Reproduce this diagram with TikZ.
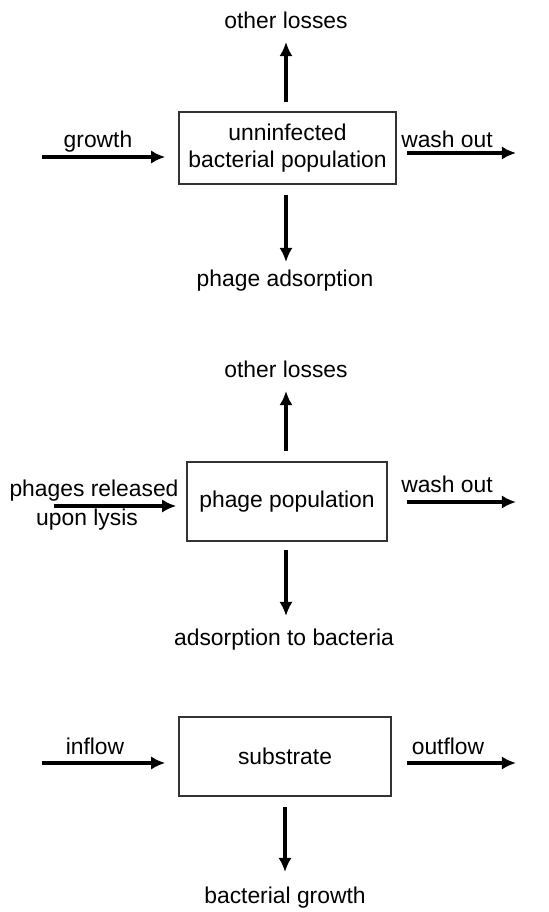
\documentclass[tikz,border=0pt]{standalone}
\usepackage{fontspec}
\setmainfont{Liberation Sans}
\usetikzlibrary{arrows.meta}

\tikzset{
    flow/.style={black, line width=1.8pt, -{Latex[length=8pt,width=7.5pt]}},
    pool/.style={draw=black!80, line width=0.85pt, align=center, inner sep=0pt},
    lbl/.style={anchor=base, inner sep=0pt}
}

\begin{document}
\begin{tikzpicture}[font=\fontsize{13}{15.5}\selectfont]
        \useasboundingbox (0,0) rectangle (10.98,-18.24);

        \node[pool, minimum width=4.34cm, minimum height=1.44cm] (b1) at (5.75,-2.96) {unninfected\\bacterial population};
        \node[lbl] (ol1) at (5.72,-0.56) {other losses};
        \node[lbl] (pa1) at (5.70,-5.72) {phage adsorption};
        \node[lbl] (gr1) at (1.96,-2.94) {growth};
        \node[lbl] (wo1) at (8.94,-2.94) {wash out};
        \coordinate (u1) at (5.72,-0.84);
        \coordinate (d1) at (5.72,-5.24);
        \coordinate (g1) at (0.84,-3.14);
        \coordinate (w1) at (10.32,-3.06);
        \draw [flow, shorten <=0.18cm] (u1 |- b1.north) -- (u1);
        \draw [flow, shorten <=0.2cm] (d1 |- b1.south) -- (d1);
        \draw [flow, shorten >=0.26cm] (g1) -- (b1.west |- g1);
        \draw [flow, shorten <=0.2cm] (b1.east |- w1) -- (w1);

        \node[pool, minimum width=4.0cm, minimum height=1.58cm] (b2) at (5.74,-10.03) {phage population};
        \node[lbl] (ol2) at (5.72,-7.54) {other losses};
        \node[lbl] (ab2) at (5.68,-12.90) {adsorption to bacteria};
        \node[lbl] (pr2) at (1.88,-9.92) {phages released};
        \node[lbl] (ul2) at (1.74,-10.50) {upon lysis};
        \node[lbl] (wo2) at (8.94,-9.84) {wash out};
        \coordinate (u2) at (5.72,-7.82);
        \coordinate (d2) at (5.72,-12.32);
        \coordinate (r2) at (1.08,-10.12);
        \coordinate (w2) at (10.32,-10.04);
        \draw [flow, shorten <=0.2cm] (u2 |- b2.north) -- (u2);
        \draw [flow, shorten <=0.16cm] (d2 |- b2.south) -- (d2);
        \draw [flow, shorten >=0.2cm] (r2) -- (b2.west |- r2);
        \draw [flow, shorten <=0.38cm] (b2.east |- w2) -- (w2);

        \node[pool, minimum width=4.24cm, minimum height=1.58cm] (b3) at (5.70,-15.13) {substrate};
        \node[lbl] (in3) at (1.90,-15.08) {inflow};
        \node[lbl] (of3) at (8.96,-15.08) {outflow};
        \node[lbl] (bg3) at (5.70,-18.06) {bacterial growth};
        \coordinate (i3) at (0.84,-15.26);
        \coordinate (o3) at (10.32,-15.26);
        \coordinate (d3) at (5.70,-17.44);
        \draw [flow, shorten >=0.26cm] (i3) -- (b3.west |- i3);
        \draw [flow, shorten <=0.3cm] (b3.east |- o3) -- (o3);
        \draw [flow, shorten <=0.2cm] (d3 |- b3.south) -- (d3);
    \end{tikzpicture}
\end{document}
